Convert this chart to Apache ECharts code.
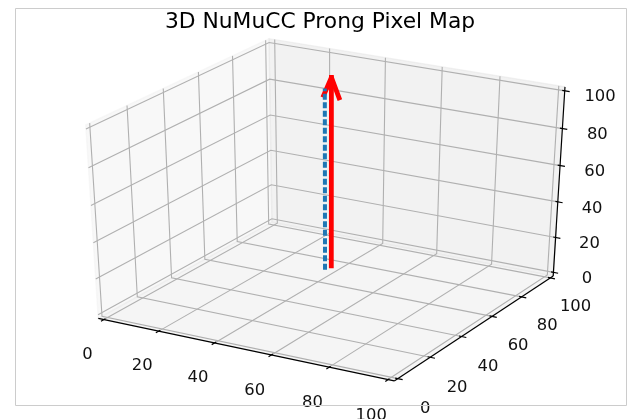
<!DOCTYPE html>
<html><head><meta charset="utf-8">
<script src="https://cdn.jsdelivr.net/npm/echarts@6/dist/echarts.min.js"></script>
<style>html,body{margin:0;padding:0;background:#fff}#c{width:628px;height:419px}</style>
</head><body><div id="c"></div>
<script>
// ---------------- data ----------------
const xTicks = [0, 20, 40, 60, 80, 100];
const yTicks = [0, 20, 40, 60, 80, 100];
const zTicks = [0, 20, 40, 60, 80, 100];
const xTickLabels = ['0', '20', '40', '60', '80', '100'];
const yTickLabels = ['0', '20', '40', '60', '80', '100'];
const zTickLabels = ['0', '20', '40', '60', '80', '100'];
const xLimits = [0, 100];
const yLimits = [0, 100];
const zLimits = [0, 100];
// red quiver arrow (tail + vector)
const arrowTail = [38, 72, 0];
const arrowVector = [0, 0, 104];
const arrowHeadRatio = 0.1;
// blue dashed track
const trackX = [38, 38];
const trackY = [68, 68];
const trackZ = [0, 100];
const titleText = '3D NuMuCC Prong Pixel Map';

// ---------------- 3D view (matplotlib-like projection) ----------------
const ELEV = 30, AZIM = -60, DIST = 10;
const re = ELEV * Math.PI / 180, ra = AZIM * Math.PI / 180;
const nv = [Math.cos(ra) * Math.cos(re), Math.sin(ra) * Math.cos(re), Math.sin(re)];
let uv = [-nv[1], nv[0], 0];
const ul = Math.hypot(uv[0], uv[1], uv[2]); uv = uv.map(v => v / ul);
const vv = [nv[1] * uv[2] - nv[2] * uv[1], nv[2] * uv[0] - nv[0] * uv[2], nv[0] * uv[1] - nv[1] * uv[0]];
const dot = (a, b) => a[0] * b[0] + a[1] * b[1] + a[2] * b[2];
function proj(p) {
  const q = [(p[0] - xLimits[0]) / (xLimits[1] - xLimits[0]) - 0.5,
             (p[1] - yLimits[0]) / (yLimits[1] - yLimits[0]) - 0.5,
             (p[2] - zLimits[0]) / (zLimits[1] - zLimits[0]) - 0.5];
  const w = DIST - dot(nv, q);
  return [dot(uv, q) / w, dot(vv, q) / w];
}
// box (limits padded like matplotlib)
const px = (xLimits[1] - xLimits[0]) / 48, py = (yLimits[1] - yLimits[0]) / 48, pz = (zLimits[1] - zLimits[0]) / 48;
const BX0 = xLimits[0] - px, BX1 = xLimits[1] + px;
const BY0 = yLimits[0] - py, BY1 = yLimits[1] + py;
const BZ0 = zLimits[0] - pz, BZ1 = zLimits[1] + pz;
const dX = (xLimits[1] - xLimits[0]) / 12, dY = (yLimits[1] - yLimits[0]) / 12;

// screen mapping of projected plane
const SX0 = 329.4, SXS = 3279.5, SY0 = 203.7, SYS = 2118;

// panes
const panes = [
  { pts: [[BX0, BY0, BZ0], [BX0, BY1, BZ0], [BX0, BY1, BZ1], [BX0, BY0, BZ1]], c: 'rgba(242,242,242,0.5)' },
  { pts: [[BX0, BY1, BZ0], [BX1, BY1, BZ0], [BX1, BY1, BZ1], [BX0, BY1, BZ1]], c: 'rgba(230,230,230,0.5)' },
  { pts: [[BX0, BY0, BZ0], [BX1, BY0, BZ0], [BX1, BY1, BZ0], [BX0, BY1, BZ0]], c: 'rgba(236,236,236,0.5)' }
].map(p => ({ pts: p.pts.map(proj), c: p.c }));

// gridlines
const grids = [];
xTicks.forEach(t => grids.push([[t, BY0, BZ0], [t, BY1, BZ0], [t, BY1, BZ1]].map(proj)));
yTicks.forEach(t => grids.push([[BX0, t, BZ1], [BX0, t, BZ0], [BX1, t, BZ0]].map(proj)));
zTicks.forEach(t => grids.push([[BX1, BY1, t], [BX0, BY1, t], [BX0, BY0, t]].map(proj)));

// axis lines + ticks
const axisLines = [
  [[BX0, BY0, BZ0], [BX1, BY0, BZ0]].map(proj),
  [[BX1, BY0, BZ0], [BX1, BY1, BZ0]].map(proj),
  [[BX1, BY1, BZ0], [BX1, BY1, BZ1]].map(proj)
];
xTicks.forEach(t => axisLines.push([[t, BY0 + 0.1 * dY, BZ0], [t, BY0 - 0.2 * dY, BZ0]].map(proj)));
yTicks.forEach(t => axisLines.push([[BX1 - 0.1 * dX, t, BZ0], [BX1 + 0.2 * dX, t, BZ0]].map(proj)));
zTicks.forEach(t => axisLines.push([[BX1 - 0.1 * dX, BY1, t], [BX1 + 0.2 * dX, BY1, t]].map(proj)));

// arrow (quiver-like)
const tip = [arrowTail[0] + arrowVector[0], arrowTail[1] + arrowVector[1], arrowTail[2] + arrowVector[2]];
const hl = arrowHeadRatio;
const s15 = Math.sin(15 * Math.PI / 180), c15 = Math.cos(15 * Math.PI / 180);
const arrowLines = [
  [arrowTail, tip].map(proj),
  [[tip[0] - hl * s15 * arrowVector[2], tip[1], tip[2] - hl * c15 * arrowVector[2]], tip,
   [tip[0] + hl * s15 * arrowVector[2], tip[1], tip[2] - hl * c15 * arrowVector[2]]].map(proj)
];
const trackLines = [trackX.map((x, i) => proj([x, trackY[i], trackZ[i]]))];

// tick labels
const labels = [];
xTicks.forEach((t, i) => labels.push({ p: proj([t, yLimits[0] - 12, zLimits[0] - 14.2]), s: xTickLabels[i] }));
yTicks.forEach((t, i) => labels.push({ p: proj([xLimits[1] + 11.5, t, zLimits[0] - 13.8]), s: yTickLabels[i] }));
zTicks.forEach((t, i) => labels.push({ p: proj([xLimits[1] + 12.6, yLimits[1] + 4.8, t]), s: zTickLabels[i] }));

function lineSeries(list, style, z) {
  return {
    type: 'custom', coordinateSystem: 'cartesian2d', z: z, silent: true, clip: false,
    data: list.map(l => l[0]),
    renderItem: (params, api) => ({
      type: 'polyline',
      shape: { points: list[params.dataIndex].map(pt => api.coord(pt)) },
      style: Object.assign({ fill: null }, style)
    })
  };
}

const chart = echarts.init(document.getElementById('c'), null, { renderer: 'canvas' });
chart.setOption({
  animation: false,
  backgroundColor: '#ffffff',
  grid: { left: 0, right: 0, top: 0, bottom: 0, containLabel: false },
  xAxis: { type: 'value', min: (0 - SX0) / SXS, max: (628 - SX0) / SXS, show: false },
  yAxis: { type: 'value', min: (SY0 - 419) / SYS, max: SY0 / SYS, show: false },
  graphic: [
    { type: 'rect', z: 100, shape: { x: 15.5, y: 8.5, width: 611, height: 397 }, style: { fill: null, stroke: '#cccccc', lineWidth: 1 } },
    { type: 'text', z: 100, x: 320, y: 22.5, style: { text: titleText, fontSize: 21.8, fontFamily: 'DejaVu Sans', fill: '#000', align: 'center', verticalAlign: 'middle' } }
  ],
  series: [
    {
      type: 'custom', coordinateSystem: 'cartesian2d', z: 1, silent: true, clip: false,
      data: panes.map(p => p.pts[0]),
      renderItem: (params, api) => ({
        type: 'polygon',
        shape: { points: panes[params.dataIndex].pts.map(pt => api.coord(pt)) },
        style: { fill: panes[params.dataIndex].c, stroke: panes[params.dataIndex].c, lineWidth: 1.3 }
      })
    },
    lineSeries(grids, { stroke: '#b0b0b0', lineWidth: 1.1 }, 2),
    lineSeries(axisLines, { stroke: '#000000', lineWidth: 1.2 }, 3),
    lineSeries(arrowLines, { stroke: '#ff0000', lineWidth: 4.8, lineCap: 'square', lineJoin: 'round' }, 4),
    lineSeries(trackLines, { stroke: '#1f77b4', lineWidth: 4, lineDash: [6, 2.5] }, 5),
    {
      type: 'custom', coordinateSystem: 'cartesian2d', z: 6, silent: true, clip: false,
      data: labels.map(l => l.p),
      renderItem: (params, api) => {
        const c = api.coord(labels[params.dataIndex].p);
        return {
          type: 'text', x: c[0], y: c[1] + 3.5,
          style: { text: labels[params.dataIndex].s, fontSize: 16.4, fontFamily: 'DejaVu Sans', fill: '#111', align: 'center', verticalAlign: 'middle' }
        };
      }
    }
  ]
});
</script></body></html>
